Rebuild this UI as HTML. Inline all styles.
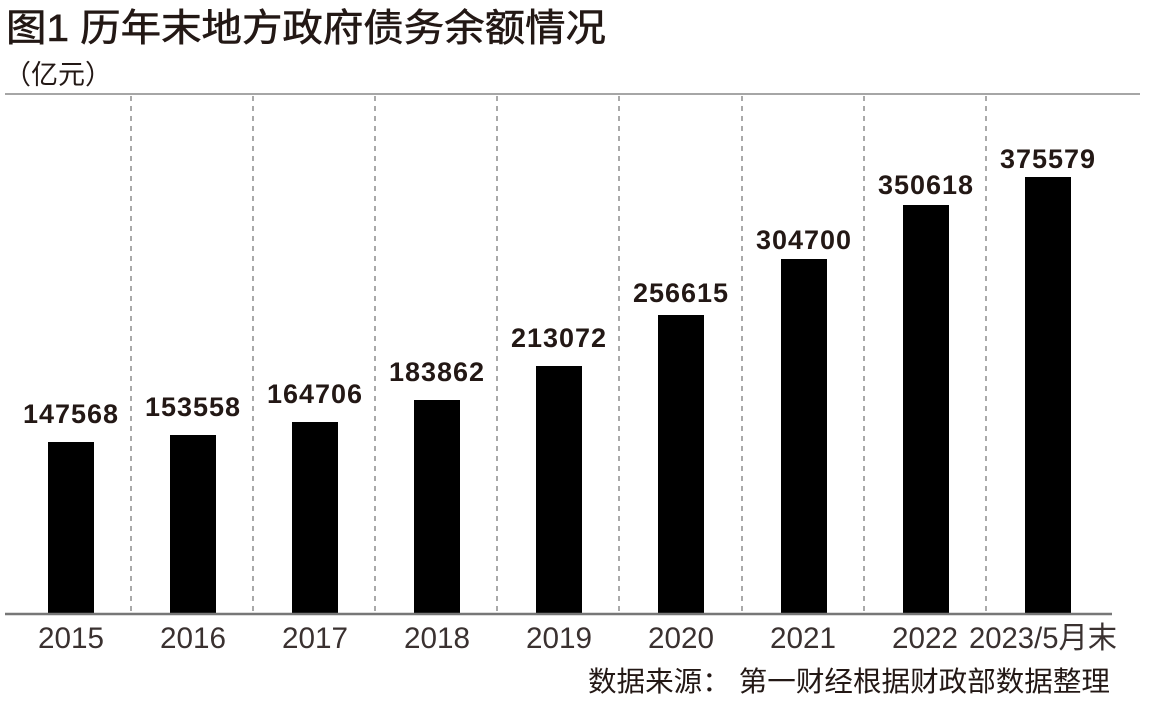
<!DOCTYPE html>
<html><head><meta charset="utf-8"><style>
html,body{margin:0;padding:0;background:#fff;}
svg{display:block}
text{font-family:"Liberation Sans","Noto Sans CJK SC",sans-serif;}
</style></head><body>
<svg width="1170" height="702" xmlns="http://www.w3.org/2000/svg">
<rect width="1170" height="702" fill="#fff"/>
<text x="6" y="41" font-size="38" fill="#231815" textLength="600" lengthAdjust="spacingAndGlyphs" stroke="#231815" stroke-width="0.6">图1 历年末地方政府债务余额情况</text>
<text x="4" y="84" font-size="27" fill="#231815" textLength="108" lengthAdjust="spacingAndGlyphs">（亿元）</text>
<line x1="5" y1="94" x2="1140" y2="94" stroke="#888" stroke-width="1.5"/>
<g stroke="#555" stroke-width="1" stroke-dasharray="5,5">
<line x1="131" y1="96" x2="131" y2="614"/><line x1="253" y1="96" x2="253" y2="614"/>
<line x1="375" y1="96" x2="375" y2="614"/><line x1="497" y1="96" x2="497" y2="614"/>
<line x1="619" y1="96" x2="619" y2="614"/><line x1="742" y1="96" x2="742" y2="614"/>
<line x1="864" y1="96" x2="864" y2="614"/><line x1="986" y1="96" x2="986" y2="614"/>
</g>
<g fill="#000">
<rect x="48" y="442" width="46" height="172"/>
<rect x="170" y="435" width="46" height="179"/>
<rect x="292" y="422" width="46" height="192"/>
<rect x="414" y="400" width="46" height="214"/>
<rect x="536" y="366" width="46" height="248"/>
<rect x="658" y="315" width="46" height="299"/>
<rect x="781" y="259" width="46" height="355"/>
<rect x="903" y="205" width="46" height="409"/>
<rect x="1025" y="177" width="46" height="437"/>
</g>
<line x1="5" y1="614" x2="1112" y2="614" stroke="#777" stroke-width="2.5"/>
<g font-size="27" font-weight="bold" fill="#231815" text-anchor="middle" letter-spacing="1">
<text x="71" y="423">147568</text>
<text x="193" y="416">153558</text>
<text x="315" y="403">164706</text>
<text x="437" y="381">183862</text>
<text x="559" y="347">213072</text>
<text x="681" y="302">256615</text>
<text x="804" y="249">304700</text>
<text x="926" y="194">350618</text>
<text x="1048" y="168">375579</text>
</g>
<g font-size="30" fill="#3a3130" text-anchor="middle">
<text x="71" y="648" textLength="66" lengthAdjust="spacingAndGlyphs">2015</text>
<text x="193" y="648" textLength="66" lengthAdjust="spacingAndGlyphs">2016</text>
<text x="315" y="648" textLength="66" lengthAdjust="spacingAndGlyphs">2017</text>
<text x="437" y="648" textLength="66" lengthAdjust="spacingAndGlyphs">2018</text>
<text x="559" y="648" textLength="66" lengthAdjust="spacingAndGlyphs">2019</text>
<text x="681" y="648" textLength="66" lengthAdjust="spacingAndGlyphs">2020</text>
<text x="803" y="648" textLength="66" lengthAdjust="spacingAndGlyphs">2021</text>
<text x="925" y="648" textLength="66" lengthAdjust="spacingAndGlyphs">2022</text>
<text x="1043" y="648" textLength="148" lengthAdjust="spacingAndGlyphs">2023/5月末</text>
</g>
<text x="588" y="691" font-size="28" fill="#231815" textLength="522" lengthAdjust="spacingAndGlyphs">数据来源：  第一财经根据财政部数据整理</text>
</svg>
</body></html>
